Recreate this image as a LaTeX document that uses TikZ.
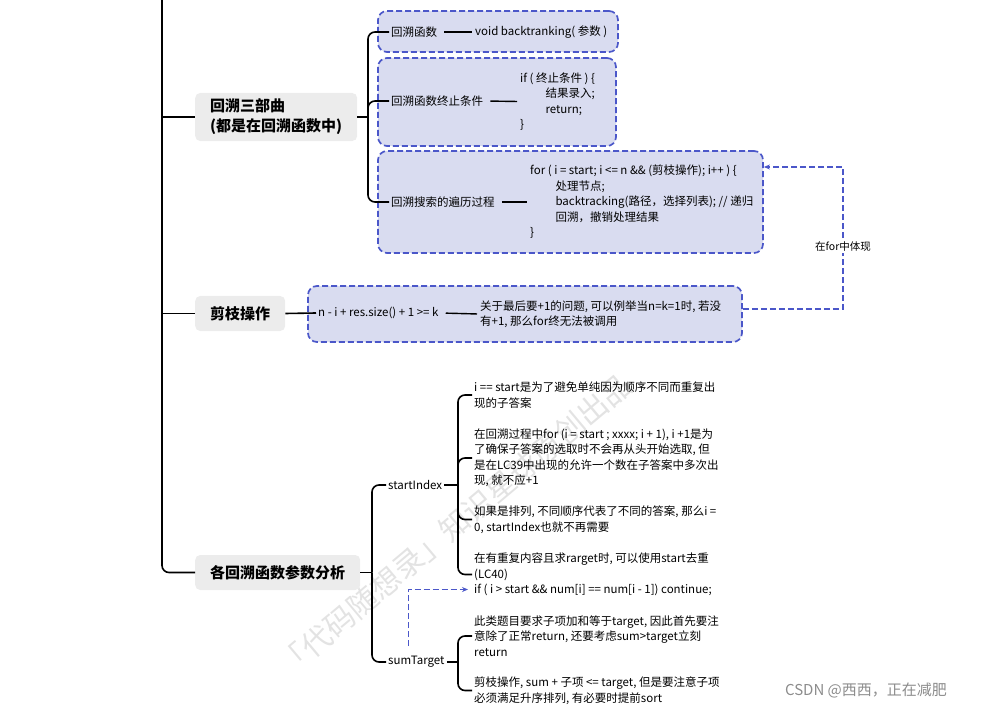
\documentclass[tikz,border=0pt]{standalone}
\usepackage{fontspec}
\setmainfont{Noto Sans CJK SC}
\usetikzlibrary{positioning, calc, arrows.meta}
\definecolor{boxfill}{HTML}{D9DCF0}
\definecolor{boxline}{HTML}{4B57C9}
\definecolor{topicfill}{HTML}{ECECEC}
\tikzstyle{Link} = [
%dashed blue pointer:
draw=boxline, line width=1.6pt, dash pattern=on 6pt off 3pt,
-{Stealth[length=6pt, width=5pt]}
]

\begin{document}
\begin{tikzpicture}[x=1pt, y=-1pt,
			topic/.style = {rectangle, rounded corners=5pt, fill=topicfill, font=\fontsize{15}{20}\selectfont\bfseries, align=left, inner xsep=15pt, inner ysep=6pt, minimum height=35pt, anchor=west},
			dbox/.style = {rectangle, rounded corners=9pt, draw=boxline, fill=boxfill, line width=1.7pt, dash pattern=on 6pt off 3pt},
			leaf/.style = {font=\fontsize{11.5}{15.5}\selectfont, align=left, anchor=west, inner sep=2pt},
			tree/.style = {line width=1.6pt, rounded corners=7pt},
			joiner/.style = {line width=1.4pt, shorten <=5pt, shorten >=1pt},
			wmark/.style = {font=\fontsize{30}{30}\selectfont, text=black!11},
		]
		\useasboundingbox (0,0) rectangle (987,708);
		\node[wmark, rotate=40] (wm) at (455,525) {「代码随想录」知识星球原创出品};

		\coordinate (top) at (162,0);
		\node[topic] (three) at (195,117) {回溯三部曲\\(都是在回溯函数中)};
		\node[topic] (prune) at (195,313.5) {剪枝操作};
		\node[topic] (param) at (195,572.5) {各回溯函数参数分析};

		\draw[tree] (top) |- (param.west);
		\draw[tree] (top |- three) -- (three.west);
		\draw[tree] (top |- prune) -- (prune.west);

		% three steps
		\node[dbox, minimum width=240pt, minimum height=41pt] (boxA) at (498,31.5) {};
		\node[dbox, minimum width=238pt, minimum height=88pt] (boxB) at (497,102) {};
		\node[dbox, minimum width=385pt, minimum height=102pt] (boxC) at (570.5,202) {};

		\node[leaf] (funA) at (389,32) {回溯函数};
		\node[leaf] (sigA) at (473,32) {void backtranking( 参数 )};
		\node[leaf] (funB) at (389,101) {回溯函数终止条件};
		\node[leaf] (codeB) at (518,101.5) {if ( 终止条件 ) \{\\\hspace*{2.2em}结果录入;\\\hspace*{2.2em}return;\\\}};
		\node[leaf] (funC) at (389,202) {回溯搜索的遍历过程};
		\node[leaf] (codeC) at (528,202) {for ( i = start; i <= n \&\& (剪枝操作); i++ ) \{\\\hspace*{2.2em}处理节点;\\\hspace*{2.2em}backtracking(路径，选择列表); // 递归\\\hspace*{2.2em}回溯，撤销处理结果\\\}};

		\coordinate (j1) at (368,117);
		\draw[tree] (three.east) -- (j1);
		\foreach \c in {funA,funB,funC}
			\draw[tree] (j1) |- (\c.west);
		\draw[joiner] (funA.east) -- (sigA.west);
		\draw[joiner] (funB.east) -- (codeB.west);
		\draw[joiner] (funC.east) -- (codeC.west);

		% pruning
		\node[dbox, minimum width=434pt, minimum height=56pt] (boxP) at (525,314) {};
		\node[leaf] (ineq) at (316,313) {n - i + res.size() + 1 >= k};
		\node[leaf] (why) at (478,314) {关于最后要+1的问题, 可以例举当n=k=1时, 若没\\有+1, 那么for终无法被调用};
		\draw[tree] (prune.east) -- (ineq.west);
		\draw[joiner] (ineq.east) -- (why.west);

		\coordinate (turn) at (843,167);
		\draw[Link] ([yshift=5pt]boxP.east) -| (turn) -- (turn -| boxC.east);
		\node[fill=white, font=\fontsize{10.5}{12}\selectfont, inner sep=1pt] (forlbl) at (843,247) {在for中体现};

		% parameters
		\coordinate (j3) at (372,572.5);
		\draw[tree] (param.east) -- (j3);
		\node[leaf] (sidx) at (386,485) {startIndex};
		\node[leaf] (sumt) at (386,662) {sumTarget};
		\draw[tree] (j3) |- (sidx.west);
		\draw[tree] (j3) |- (sumt.west);

		\node[leaf] (s1) at (472,395) {i == start是为了避免单纯因为顺序不同而重复出\\现的子答案};
		\node[leaf] (s2) at (472,458) {在回溯过程中for (i = start ; xxxx; i + 1), i +1是为\\了确保子答案的选取时不会再从头开始选取, 但\\是在LC39中出现的允许一个数在子答案中多次出\\现, 就不应+1};
		\node[leaf] (s3) at (472,519.5) {如果是排列, 不同顺序代表了不同的答案, 那么i =\\0, startIndex也就不再需要};
		\node[leaf] (s4) at (472,574.5) {在有重复内容且求rarget时, 可以使用start去重\\(LC40)\\if ( i > start \&\& num[i] == num[i - 1]) continue;};
		\coordinate (j4) at (458,485);
		\draw[tree] (sidx.east) -- (j4);
		\foreach \s in {s1,s2,s3,s4}
			\draw[tree] (j4) |- (\s.west);

		\node[leaf] (t1) at (472,636) {此类题目要求子项加和等于target, 因此首先要注\\意除了正常return, 还要考虑sum>target立刻\\return};
		\node[leaf] (t2) at (472,690.5) {剪枝操作, sum + 子项 <= target, 但是要注意子项\\必须满足升序排列, 有必要时提前sort};
		\coordinate (j5) at (458,662);
		\draw[tree] (sumt.east) -- (j5);
		\foreach \s in {t1,t2}
			\draw[tree] (j5) |- (\s.west);

		\coordinate (lc40) at (468,589.5);
		\draw[Link] ([xshift=-8pt, yshift=8pt]sumt.north) |- (lc40);

		\node[font=\fontsize{15}{18}\selectfont, text=black!45] (csdn) at (866,690) {CSDN @西西，正在减肥};
	\end{tikzpicture}
\end{document}
